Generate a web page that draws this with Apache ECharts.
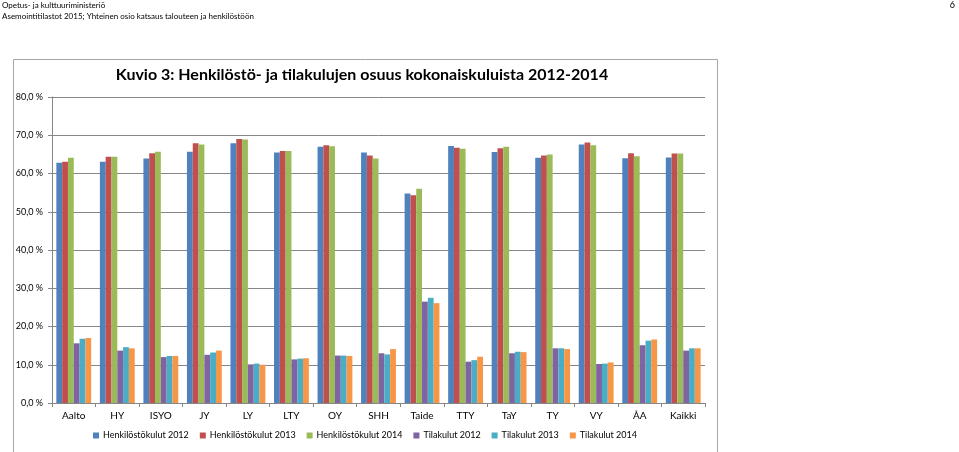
<!DOCTYPE html>
<html lang="fi">
<head>
<meta charset="UTF-8">
<title>Kuvio 3</title>
<script src="https://cdn.jsdelivr.net/npm/echarts@6/dist/echarts.min.js"></script>
<style>
  html, body { margin: 0; padding: 0; background: #fff; }
  #main { width: 959px; height: 452px; }
</style>
</head>
<body>
<div id="main"></div>
<script>
// yliopistot
var categories = ['Aalto', 'HY', 'ISYO', 'JY', 'LY', 'LTY', 'OY', 'SHH', 'Taide', 'TTY', 'TaY', 'TY', 'VY', 'ÅA', 'Kaikki'];

var henk2012 = [62.8, 63.1, 63.9, 65.7, 67.9, 65.5, 67.0, 65.5, 54.8, 67.2, 65.6, 64.1, 67.6, 64.0, 64.2];
var henk2013 = [63.1, 64.4, 65.3, 67.9, 69.0, 65.9, 67.4, 64.7, 54.3, 66.7, 66.6, 64.7, 68.1, 65.3, 65.2];
var henk2014 = [64.1, 64.4, 65.7, 67.6, 68.9, 65.9, 67.1, 63.9, 56.0, 66.5, 67.0, 65.0, 67.4, 64.5, 65.2];
var tila2012 = [15.6, 13.7, 12.0, 12.6, 10.1, 11.4, 12.4, 13.0, 26.5, 10.8, 13.0, 14.3, 10.2, 15.1, 13.7];
var tila2013 = [16.8, 14.6, 12.3, 13.2, 10.3, 11.6, 12.4, 12.7, 27.5, 11.2, 13.4, 14.3, 10.3, 16.3, 14.3];
var tila2014 = [17.0, 14.3, 12.3, 13.7, 10.0, 11.7, 12.3, 14.1, 26.1, 12.1, 13.3, 14.1, 10.6, 16.6, 14.3];

var seriesNames = ['Henkilöstökulut 2012', 'Henkilöstökulut 2013', 'Henkilöstökulut 2014', 'Tilakulut 2012', 'Tilakulut 2013', 'Tilakulut 2014'];
var seriesData = [henk2012, henk2013, henk2014, tila2012, tila2013, tila2014];
var colors = ['#4F81BD', '#C0504D', '#9BBB59', '#8064A2', '#4BACC6', '#F79646'];

var font = 'Lato, "Open Sans", sans-serif';

var chart = echarts.init(document.getElementById('main'));

var series = [];
for (var i = 0; i < seriesNames.length; i++) {
    series.push({
        name: seriesNames[i],
        type: 'bar',
        data: seriesData[i],
        barGap: '0%',
        barCategoryGap: '20%',
        itemStyle: { color: colors[i] }
    });
}

var option = {
    animation: false,
    color: colors,
    textStyle: { fontFamily: font },
    title: [
        {
            text: 'Opetus- ja kulttuuriministeriö',
            left: 2, top: 1, padding: 0,
            textStyle: { fontSize: 8, fontWeight: 'normal', color: '#000', fontFamily: font }
        },
        {
            text: 'Asemointitilastot 2015; Yhteinen osio katsaus talouteen ja henkilöstöön',
            left: 2, top: 12, padding: 0,
            textStyle: { fontSize: 8, fontWeight: 'normal', color: '#000', fontFamily: font }
        },
        {
            text: '6',
            right: 4, top: 1, padding: 0,
            textStyle: { fontSize: 9, fontWeight: 'normal', color: '#000', fontFamily: font }
        },
        {
            text: 'Kuvio 3: Henkilöstö- ja tilakulujen osuus kokonaiskuluista 2012-2014',
            left: 362, top: 67, padding: 0, textAlign: 'center',
            textStyle: { fontSize: 16, fontWeight: 'bold', color: '#000', fontFamily: font }
        }
    ],
    graphic: [{
        type: 'rect',
        left: 11, top: 57,
        shape: { width: 704, height: 393 },
        style: { fill: 'none', stroke: '#a6a6a6', lineWidth: 1 },
        silent: true
    }],
    legend: {
        left: 93, top: 431, padding: 0,
        itemWidth: 6, itemHeight: 6, itemGap: 11,
        icon: 'rect',
        textStyle: { fontSize: 9, color: '#000', fontFamily: font, padding: [0, 0, 0, -1] },
        data: seriesNames
    },
    grid: { left: 52, right: 254, top: 97, bottom: 49, containLabel: false },
    xAxis: {
        type: 'category',
        data: categories,
        axisLine: { lineStyle: { color: '#868686' } },
        axisTick: { show: true, length: 4, lineStyle: { color: '#868686' } },
        axisLabel: { color: '#000', fontSize: 10, margin: 8, fontFamily: font, interval: 0 }
    },
    yAxis: {
        type: 'value',
        min: 0, max: 80, interval: 10,
        axisLine: { show: true, lineStyle: { color: '#868686' } },
        axisTick: { show: true, length: 4, lineStyle: { color: '#868686' } },
        axisLabel: {
            color: '#000', fontSize: 9, margin: 9, fontFamily: font,
            formatter: function (v) { return v.toFixed(1).replace('.', ',') + ' %'; }
        },
        splitLine: { lineStyle: { color: '#868686' } }
    },
    series: series
};

chart.setOption(option);
</script>
</body>
</html>
